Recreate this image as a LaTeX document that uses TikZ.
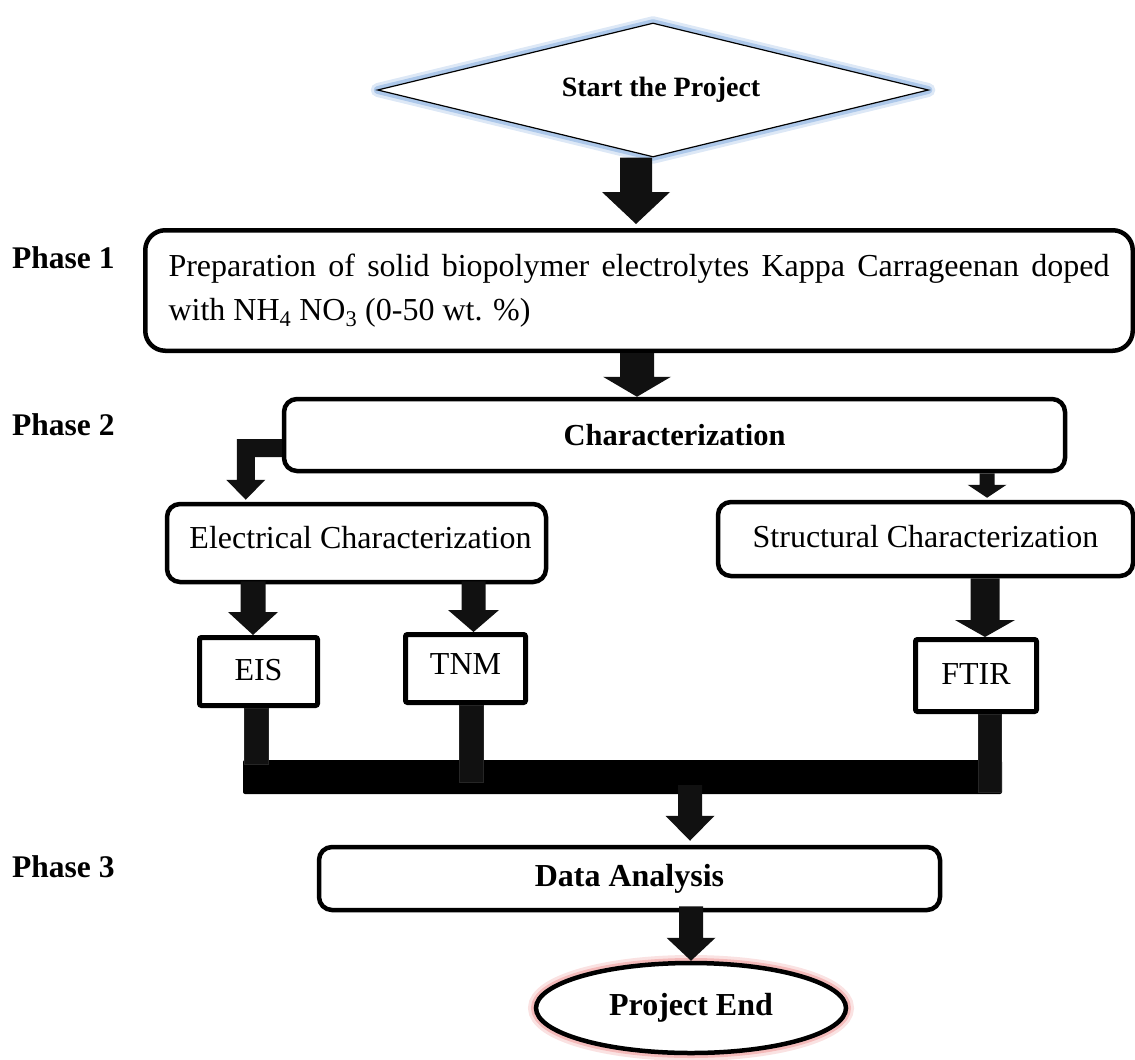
\documentclass[tikz,border=0pt]{standalone}
\usepackage{fontspec}
\setmainfont{Liberation Serif}
\usetikzlibrary{shapes.geometric,calc}
\definecolor{arrowk}{HTML}{111111}
\definecolor{glowblue}{HTML}{8DB3E2}
\definecolor{glowred}{HTML}{F0A0A0}
% block arrow: from, to, half shaft, half head, head length (x taken from target)
\newcommand\blockarrow[5]{\fill[arrowk] let \p1=(#1), \p2=(#2) in
  (\x2-#3,\y1) -- (\x2+#3,\y1) -- (\x2+#3,\y2+#5) -- (\x2+#4,\y2+#5) -- (\x2,\y2)
  -- (\x2-#4,\y2+#5) -- (\x2-#3,\y2+#5) -- cycle;}
% stem: from, to, x offset, half width, extra length
\newcommand\stemline[5]{\filldraw[fill=arrowk, draw=black!85, line width=1pt] let \p1=(#1), \p2=(#2) in
  (\x1+#3-#4,\y1) rectangle (\x1+#3+#4,\y2-#5);}
\tikzset{
  rbox/.style={draw=black, line width=4.5pt, rounded corners=13pt, fill=white, inner sep=0pt,
    font=\fontsize{32}{38}\selectfont},
  sbox/.style={draw=black, line width=5pt, rounded corners=2pt, fill=white, inner sep=0pt,
    font=\fontsize{32}{38}\selectfont},
  phase/.style={anchor=base west, inner sep=0pt, font=\fontsize{31.5}{36}\selectfont\bfseries},
}
\begin{document}
\begin{tikzpicture}[x=1pt,y=-1pt]
\useasboundingbox (0,0) rectangle (1135,1060);

% start diamond
\node[diamond, aspect=4.11, draw=black, line width=1.2pt, minimum width=551pt, minimum height=134pt,
  inner sep=0pt, fill=white,
  preaction={draw=glowblue, line width=14pt, line join=round, opacity=0.3},
  preaction={draw=glowblue, line width=8pt, line join=round, opacity=0.6},
  font=\fontsize{28}{34}\selectfont\bfseries] (start) at (653,90) {\hspace{16pt}Start the Project};

% phase labels
\node[phase] (ph1) at (12,268) {Phase 1};
\node[phase] (ph2) at (12,435) {Phase 2};
\node[phase] (ph3) at (12,877) {Phase 3};

% phase 1 box
\node[rbox, rounded corners=20pt, minimum width=987.5pt, minimum height=120.5pt,
  font=\fontsize{32}{44}\selectfont] (p1) at (639,290.5)
  {\parbox{941pt}{\makebox[941pt][s]{Preparation of solid biopolymer electrolytes Kappa Carrageenan doped}\\
   with NH\textsubscript{4} NO\textsubscript{3} (0-50 wt. \%)}};

% characterization
\node[rbox, minimum width=781pt, minimum height=72pt,
  font=\fontsize{30.5}{36}\selectfont\bfseries] (char) at (674.5,435) {Characterization};

% electrical / structural
\node[rbox, minimum width=379pt, minimum height=78pt, text depth=11pt] (elec) at (356.5,543)
  {\hspace{8pt}Electrical Characterization};
\node[rbox, minimum width=415pt, minimum height=74pt, text depth=6pt] (struc) at (925.5,539)
  {Structural Characterization\hspace{20pt}};

% small boxes
\node[sbox, minimum width=118pt, minimum height=68pt, text depth=4pt] (eis) at (258.5,671.5) {EIS};
\node[sbox, minimum width=120pt, minimum height=68pt, text depth=9pt] (tnm) at (465.5,668.5) {TNM};
\node[sbox, minimum width=121pt, minimum height=72pt, text depth=3pt] (ftir) at (976,675.5) {FTIR};

% collecting bar
\node[fill=black, draw=none, inner sep=0pt, rounded corners=2pt, minimum width=759pt,
  minimum height=34pt] (bar) at (622.5,777) {};

% data analysis
\node[rbox, minimum width=621pt, minimum height=63pt,
  font=\fontsize{32}{38}\selectfont\bfseries] (data) at (629.5,878.5) {Data Analysis};

% end ellipse
\node[ellipse, draw=black, line width=4.5pt, fill=white, inner sep=0pt,
  minimum width=310pt, minimum height=90pt,
  preaction={draw=glowred, line width=16pt, opacity=0.3},
  preaction={draw=glowred, line width=10pt, opacity=0.6},
  font=\fontsize{32}{38}\selectfont\bfseries] (end) at (691,1008) {Project End};

% arrows
\blockarrow{start.south}{[xshift=-3pt,yshift=4pt]p1.north}{16}{34}{32}
\blockarrow{p1.south}{[xshift=-37.5pt]char.north}{17}{34}{20}
\fill[arrowk] let \p1=(char.west), \p2=([xshift=81pt,yshift=2pt]elec.north west) in
  (\x1,\y1-4) -- (\x2-9,\y1-4) -- (\x2-9,\y2+20) -- (\x2-19.5,\y2+20) -- (\x2,\y2)
  -- (\x2+19.5,\y2+20) -- (\x2+9,\y2+20) -- (\x2+9,\y1-22) -- (\x1,\y1-22) -- cycle;
\blockarrow{char.south}{[xshift=61.5pt,yshift=2pt]struc.north}{7.5}{19.5}{13}
\blockarrow{[yshift=3pt]elec.south}{[xshift=-5.5pt]eis.north}{12.5}{25}{23}
\blockarrow{[yshift=3pt]elec.south}{[xshift=8pt]tnm.north}{12}{25.5}{22}
\blockarrow{struc.south}{[xshift=9pt]ftir.north}{14.5}{30}{17}

% stems into bar
\stemline{eis.south}{bar.north}{-2.5}{12}{5}
\stemline{tnm.south}{bar.north}{5.5}{12}{23}
\stemline{ftir.south}{bar.north}{14}{11.5}{33}

\blockarrow{[yshift=-8pt]bar.center}{[xshift=60.5pt,yshift=4pt]data.north}{12}{24.5}{25}
\blockarrow{[yshift=6pt]data.south}{end.north}{12}{24.5}{23}
\end{tikzpicture}
\end{document}
